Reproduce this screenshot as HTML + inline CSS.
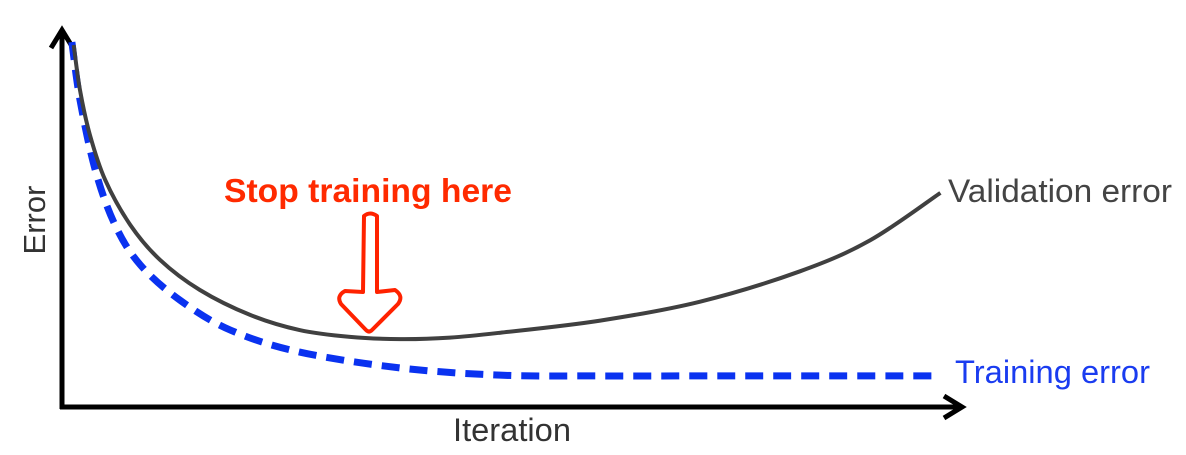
<!DOCTYPE html>
<html><head><meta charset="utf-8"><style>
html,body{margin:0;padding:0;background:#fff;}
svg{display:block;}
text{font-family:"Liberation Sans",sans-serif;}
</style></head><body>
<svg width="1186" height="455">
<g id="axes">
<line x1="62" y1="409" x2="62" y2="30" stroke="#000" stroke-width="5"/>
<polyline points="51,48 62,30 73,48" fill="none" stroke="#000" stroke-width="5"/>
<line x1="60" y1="407" x2="960" y2="407" stroke="#000" stroke-width="5"/>
<polyline points="944,396 962,407 944,418" fill="none" stroke="#000" stroke-width="5"/>
</g>
<g id="series"></g>
<text x="512" y="441" text-anchor="middle" font-size="32" textLength="118" lengthAdjust="spacingAndGlyphs" fill="#333">Iteration</text>
<text transform="translate(45,220) rotate(-90)" text-anchor="middle" font-size="31" fill="#333">Error</text>
<text x="948" y="202" font-size="32" textLength="224" lengthAdjust="spacingAndGlyphs" fill="#444">Validation error</text>
<text x="955" y="383" font-size="32" textLength="195" lengthAdjust="spacingAndGlyphs" fill="#1a3cf0">Training error</text>
<text x="368" y="202" text-anchor="middle" font-size="33" font-weight="bold" textLength="288" lengthAdjust="spacingAndGlyphs" fill="#ff2a00">Stop training here</text>
<path d="M364,216 Q370,211 377,216 L377,292 L395,290 Q404,296 398,304 L372,330 Q369,333 366,330 L341,304 Q336,296 345,291 L363,292 Z" fill="none" stroke="#ff2200" stroke-width="4" stroke-linejoin="round"/>
</svg>
<script>
const valIter=[13,20,31,48,76,109,153,209,264,320,376,431,487,598,709,820,898,976];
const valError=[95.5,83.6,71.8,59.9,48.0,38.8,30.9,24.3,20.3,18.5,17.9,18.3,19.6,22.8,27.8,35.8,44.0,56.5];
const trainIter=[11,20,37,59,87,131,187,264,376,487,598,709,820,976];
const trainError=[96.3,81,62.5,48,37.5,28.2,20.3,14.5,10.3,8.4,8.2,8.2,8.2,8.2];
const xs=v=>62+v*0.9;
const ys=v=>407-v*3.79;
function pathFrom(xa,ya){
  const p=xa.map((v,i)=>[xs(v),ys(ya[i])]);
  let d='M'+p[0][0]+','+p[0][1];
  for(let i=0;i<p.length-1;i++){
    const p0=p[i-1]||p[i],p1=p[i],p2=p[i+1],p3=p[i+2]||p2;
    const c1=[p1[0]+(p2[0]-p0[0])/6,p1[1]+(p2[1]-p0[1])/6];
    const c2=[p2[0]-(p3[0]-p1[0])/6,p2[1]-(p3[1]-p1[1])/6];
    d+=' C'+c1+' '+c2+' '+p2;
  }
  return d;
}
const g=document.getElementById('series');
const NS='http://www.w3.org/2000/svg';
const t=document.createElementNS(NS,'path');
t.setAttribute('d',pathFrom(trainIter,trainError));
t.setAttribute('fill','none');t.setAttribute('stroke','#0a32f0');t.setAttribute('stroke-width','7');t.setAttribute('stroke-dasharray','18 10');


g.appendChild(t);
const v=document.createElementNS(NS,'path');
v.setAttribute('d',pathFrom(valIter,valError));
v.setAttribute('fill','none');v.setAttribute('stroke','#404040');v.setAttribute('stroke-width','4');


g.appendChild(v);
</script>
</body></html>
